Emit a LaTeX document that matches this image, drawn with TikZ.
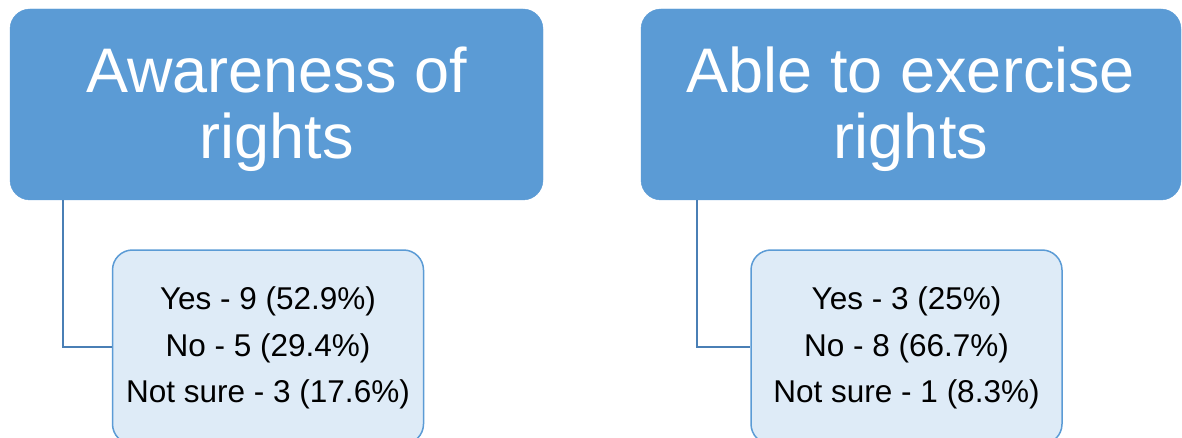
\documentclass[tikz,border=0pt]{standalone}
\usepackage{fontspec}
\setmainfont{Liberation Sans}
\definecolor{headblue}{HTML}{5B9BD5}
\definecolor{paleblue}{HTML}{DEEBF7}
\definecolor{linkblue}{HTML}{4A7FB5}

\begin{document}
\begin{tikzpicture}[x=1pt,y=-1pt,
    heading/.style={draw=headblue,fill=headblue,rounded corners=20pt,
        text=white,align=center,inner sep=0pt,text depth=4pt,
        font=\fontsize{63}{66}\selectfont},
    answers/.style={draw=headblue,line width=1.5pt,fill=paleblue,
        rounded corners=20pt,align=center,inner sep=0pt,text depth=4pt,
        minimum width=311pt,minimum height=194pt,
        font=\fontsize{31.5}{46.5}\selectfont},
    link/.style={draw=linkblue,line width=2pt}]
\useasboundingbox (0,0) rectangle (1182,438);
\clip (0,0) rectangle (1182,438);

\node [heading,minimum width=533pt,minimum height=191pt] (aware)  at (276.5,104.5) {Awareness of\\ rights};
\node [heading,minimum width=540pt,minimum height=191pt] (able)   at (911,104.5)   {Able to exercise\\ rights};

\node [answers] (awarevotes) at (268,347)   {Yes - 9 (52.9\%)\\ No - 5 (29.4\%)\\ Not sure - 3 (17.6\%)};
\node [answers] (ablevotes)  at (906.5,347) {Yes - 3 (25\%)\\ No - 8 (66.7\%)\\ Not sure - 1 (8.3\%)};

\draw [link] (aware.south west) ++(53,0) |- (awarevotes.west);
\draw [link] (able.south west)  ++(56,0) |- (ablevotes.west);
\end{tikzpicture}
\end{document}
